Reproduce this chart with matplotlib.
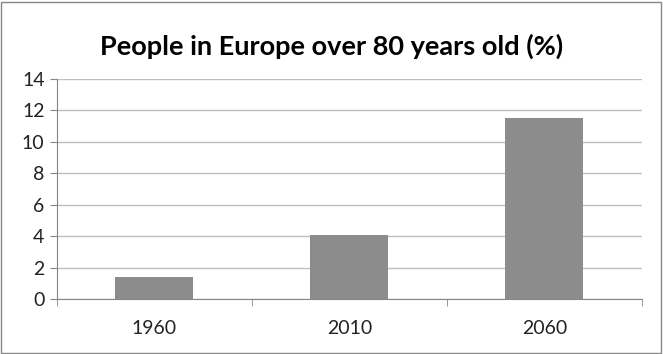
import numpy as np
import matplotlib.pyplot as plt

years = ["1960", "2010", "2060"]
share = [1.4, 4.1, 11.5]
yticks = [0, 2, 4, 6, 8, 10, 12, 14]

plt.rcParams['font.family'] = ['Lato', 'DejaVu Sans']

fig = plt.figure(figsize=(6.63, 3.54), dpi=100)
ax = fig.add_axes([0.086, 0.155, 0.882, 0.622])

x = np.arange(len(years))
ax.bar(x, share, width=0.4, color="#8c8c8c", zorder=3)

ax.set_xlim(-0.5, len(years) - 0.5)
ax.set_ylim(0, 14)
ax.set_yticks(yticks)
ax.set_yticklabels([str(v) for v in yticks], fontsize=14, color="#222222")
ax.yaxis.grid(True, color="#bfbfbf", linewidth=1, zorder=0)

# category labels in the middle, tick marks between categories
ax.set_xticks(x)
ax.set_xticklabels(years, fontsize=14, color="#222222")
ax.tick_params(axis="x", length=0, pad=15)
ax.set_xticks(np.arange(-0.5, len(years)), minor=True)
ax.tick_params(axis="x", which="minor", length=5, color="#868686", direction="out")
ax.tick_params(axis="y", length=5, color="#868686", direction="out", pad=4)

for s in ["top", "right"]:
    ax.spines[s].set_visible(False)
ax.spines["left"].set_color("#868686")
ax.spines["bottom"].set_color("#868686")

fig.text(0.5, 0.87, "People in Europe over 80 years old (%)", ha="center", va="center",
         fontsize=19.5, fontweight="bold")

# outer chart frame
fig.patches.append(plt.Rectangle((0.002, 0.004), 0.995, 0.99, transform=fig.transFigure,
                                 fill=False, edgecolor="#868686", linewidth=1))

fig.savefig("out.png", dpi=100)
